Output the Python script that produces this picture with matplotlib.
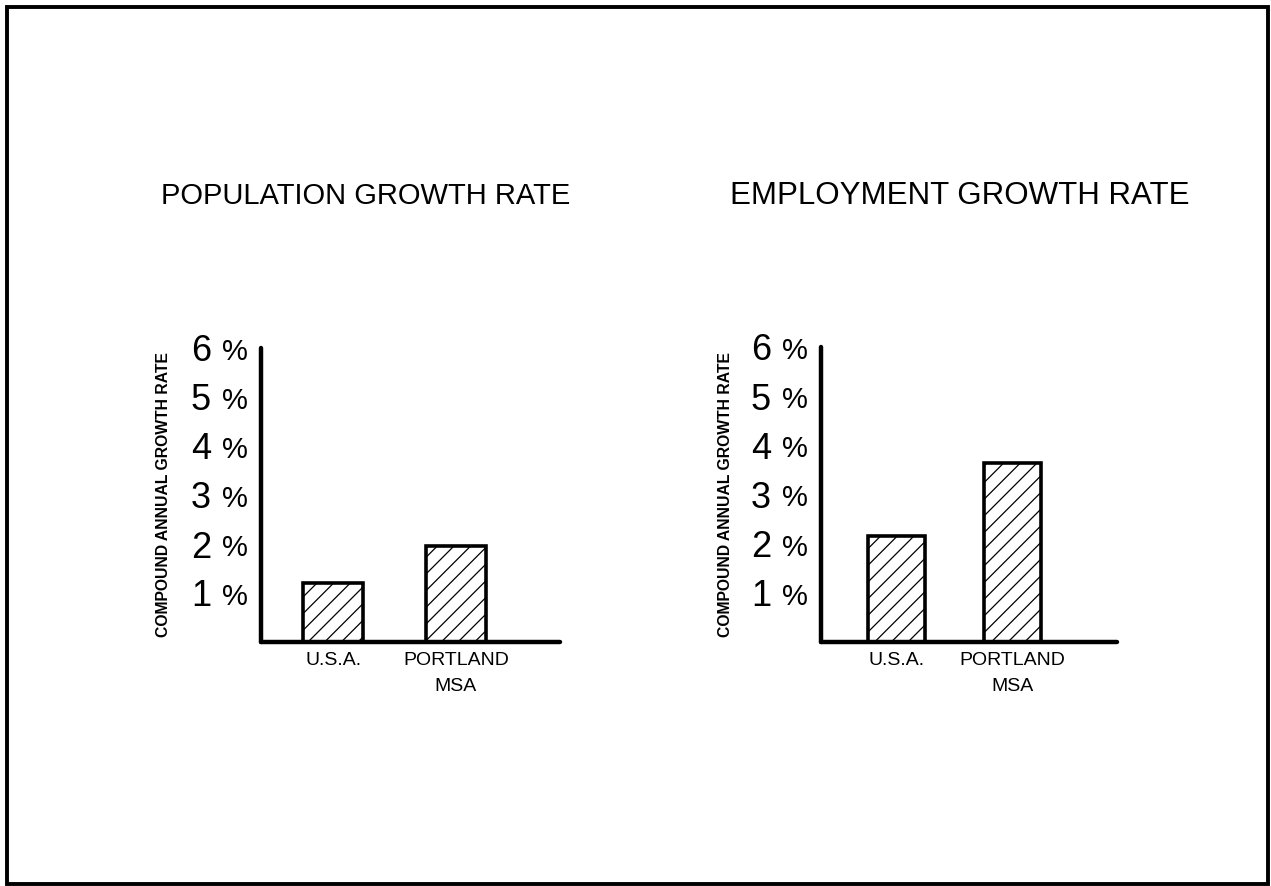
import numpy as np
import matplotlib
matplotlib.use("Agg")
import matplotlib.pyplot as plt
from matplotlib.patches import Rectangle
import matplotlib.transforms as mtransforms

plt.rcParams['font.family'] = ['Liberation Sans', 'DejaVu Sans']
plt.rcParams['hatch.linewidth'] = 0.9

# data (compound annual growth rate, %)
categories = ["U.S.A.", "PORTLAND\nMSA"]
population_growth = [1.2, 1.95]
employment_growth = [2.15, 3.65]
titles = ["POPULATION GROWTH RATE", "EMPLOYMENT GROWTH RATE"]
ytick_values = [1, 2, 3, 4, 5, 6]
ylabel = "COMPOUND ANNUAL GROWTH RATE"

W, H = 1271, 886
fig = plt.figure(figsize=(W / 100, H / 100), dpi=100)


def px_axes(x0, x1, y_top, y_base):
    return fig.add_axes([x0 / W, (H - y_base) / H, (x1 - x0) / W, (y_base - y_top) / H])


def draw_chart(ax, values, title, xlim, title_x, title_size, ylab_x):
    x = np.arange(len(values))
    ax.bar(x, values, width=0.49, color="white", edgecolor="black",
           linewidth=2.6, hatch="//", zorder=2)
    ax.set_xlim(*xlim)
    ax.set_ylim(0, 6)
    for s in ["top", "right"]:
        ax.spines[s].set_visible(False)
    for s in ["left", "bottom"]:
        ax.spines[s].set_linewidth(3.2)
        ax.spines[s].set_capstyle("round")
    ax.set_xticks(x)
    ax.set_xticklabels(categories, fontsize=14, linespacing=1.75)
    ax.tick_params(axis="x", length=0, pad=7)
    ax.set_yticks(ytick_values)
    ax.set_yticklabels([str(v) for v in ytick_values], fontsize=26)
    ax.tick_params(axis="y", length=0, pad=36)
    # the smaller "%" sign after each figure
    trans = mtransforms.blended_transform_factory(ax.transAxes, ax.transData)
    off = mtransforms.ScaledTranslation(-13 / 100, -1 / 100, fig.dpi_scale_trans)
    for v in ytick_values:
        ax.text(0, v, "%", transform=trans + off, ha="right",
                va="center_baseline", fontsize=21)
    fig.text(ylab_x / W, (H - 495) / H, ylabel, rotation=90, ha="center",
             va="center", fontsize=11.3, fontweight="bold")
    fig.text(title_x / W, (H - 196) / H, title, ha="center", va="center",
             fontsize=title_size)


ax1 = px_axes(261, 560, 348, 642)
draw_chart(ax1, population_growth, titles[0], (-0.59, 1.85), 366, 21, 164)

ax2 = px_axes(821, 1117, 347, 642)
draw_chart(ax2, employment_growth, titles[1], (-0.65, 1.90), 960, 22.5, 726)

# page frame
fig.patches.append(Rectangle((7 / W, 2 / H), (W - 10) / W, (H - 9) / H,
                             transform=fig.transFigure, fill=False,
                             edgecolor="black", linewidth=2.8))

fig.savefig("out.png", dpi=100)
